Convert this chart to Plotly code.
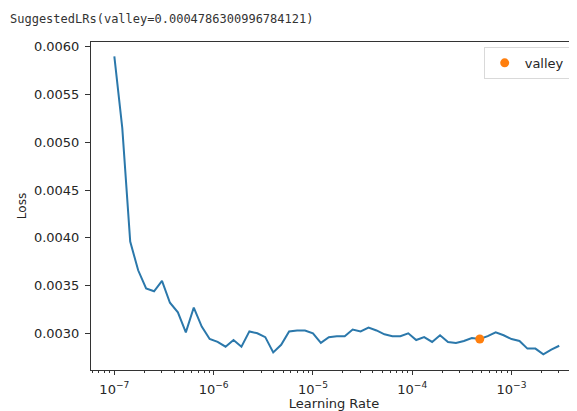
import plotly.graph_objects as go

# Learning rates (x) and losses (y)
lrs = [
    1.000e-7, 1.202e-7, 1.445e-7, 1.738e-7, 2.089e-7, 2.512e-7, 3.020e-7, 3.631e-7,
    4.365e-7, 5.248e-7, 6.310e-7, 7.586e-7, 9.120e-7,
    1.096e-6, 1.318e-6, 1.585e-6, 1.905e-6, 2.291e-6, 2.754e-6, 3.311e-6, 3.981e-6,
    4.786e-6, 5.754e-6, 6.918e-6, 8.318e-6,
    1.000e-5, 1.202e-5, 1.445e-5, 1.738e-5, 2.089e-5, 2.512e-5, 3.020e-5, 3.631e-5,
    4.365e-5, 5.248e-5, 6.310e-5, 7.586e-5, 9.120e-5,
    1.096e-4, 1.318e-4, 1.585e-4, 1.905e-4, 2.291e-4, 2.754e-4, 3.311e-4, 3.981e-4,
    4.786e-4, 5.754e-4, 6.918e-4, 8.318e-4,
    1.000e-3, 1.202e-3, 1.445e-3, 1.738e-3, 2.089e-3, 2.512e-3, 3.020e-3,
]
losses = [
    0.00590, 0.00515, 0.00396, 0.00366, 0.00347, 0.00344, 0.00355, 0.00332,
    0.00322, 0.00301, 0.00327, 0.00307, 0.00294,
    0.00291, 0.00286, 0.00293, 0.00286, 0.00302, 0.00300, 0.00296, 0.00280,
    0.00288, 0.00302, 0.00303, 0.00303,
    0.00300, 0.00290, 0.00296, 0.00297, 0.00297, 0.00304, 0.00302, 0.00306,
    0.00303, 0.00299, 0.00297, 0.00297, 0.00300,
    0.00293, 0.00296, 0.00291, 0.00298, 0.00291, 0.00290, 0.00292, 0.00295,
    0.00294, 0.00297, 0.00301, 0.00298,
    0.00294, 0.00292, 0.00284, 0.00284, 0.00278, 0.00283, 0.00287,
]
valley_lr = [4.786300996784121e-4]
valley_loss = [0.00294]

y_ticks = [0.0030, 0.0035, 0.0040, 0.0045, 0.0050, 0.0055, 0.0060]
x_ticks = [1e-7, 1e-6, 1e-5, 1e-4, 1e-3]
x_tick_labels = ["10<sup>−7</sup>", "10<sup>−6</sup>", "10<sup>−5</sup>",
                 "10<sup>−4</sup>", "10<sup>−3</sup>"]
title_text = "SuggestedLRs(valley=0.0004786300996784121)"

fig = go.Figure()
fig.add_trace(go.Scatter(
    x=lrs, y=losses, mode="lines",
    line=dict(color="#2b78ab", width=2),
    showlegend=False, hoverinfo="skip",
))
fig.add_trace(go.Scatter(
    x=valley_lr, y=valley_loss, mode="markers", name="valley",
    marker=dict(color="#ff7f0e", size=9),
))

font = dict(family="DejaVu Sans", size=13, color="#262626")

# page body adds an 8px offset, so the figure is 8px smaller than the window
fig.update_layout(
    width=569, height=403,
    margin=dict(l=83, r=0, t=34, b=41, autoexpand=False),
    paper_bgcolor="white", plot_bgcolor="white",
    font=font,
    legend=dict(
        x=0.808, y=0.985, xanchor="left", yanchor="top",
        bordercolor="#d9d9d9", borderwidth=1, bgcolor="white",
        font=dict(family="DejaVu Sans", size=13, color="#262626"),
    ),
    annotations=[dict(
        text=title_text, xref="paper", yref="paper",
        x=-83 / 486, y=1 + 23 / 328, xanchor="left", yanchor="middle",
        showarrow=False,
        font=dict(family="DejaVu Sans Mono", size=12, color="#333333"),
    )],
)

fig.update_xaxes(
    type="log", range=[-7.235, -2.341],
    tickvals=x_ticks, ticktext=x_tick_labels,
    ticks="outside", ticklen=4, tickcolor="#333333",
    showline=True, linecolor="#333333", linewidth=1, mirror=True,
    showgrid=False, zeroline=False, automargin=False,
    ticklabelstandoff=3,
    minor=dict(ticks="outside", ticklen=2, tickcolor="#333333", dtick="D1", showgrid=False),
    title=dict(text="Learning Rate", standoff=6, font=dict(family="DejaVu Sans", size=13)),
    tickfont=font,
)
fig.update_yaxes(
    range=[0.002616, 0.00605],
    tickvals=y_ticks, tickformat=".4f",
    ticks="outside", ticklen=5, tickcolor="#333333",
    showline=True, linecolor="#333333", linewidth=1,
    showgrid=False, zeroline=False, automargin=False,
    ticklabelstandoff=3,
    title=dict(text="Loss", standoff=4, font=dict(family="DejaVu Sans", size=12)),
    tickfont=font,
)

fig.write_html("out.html")
